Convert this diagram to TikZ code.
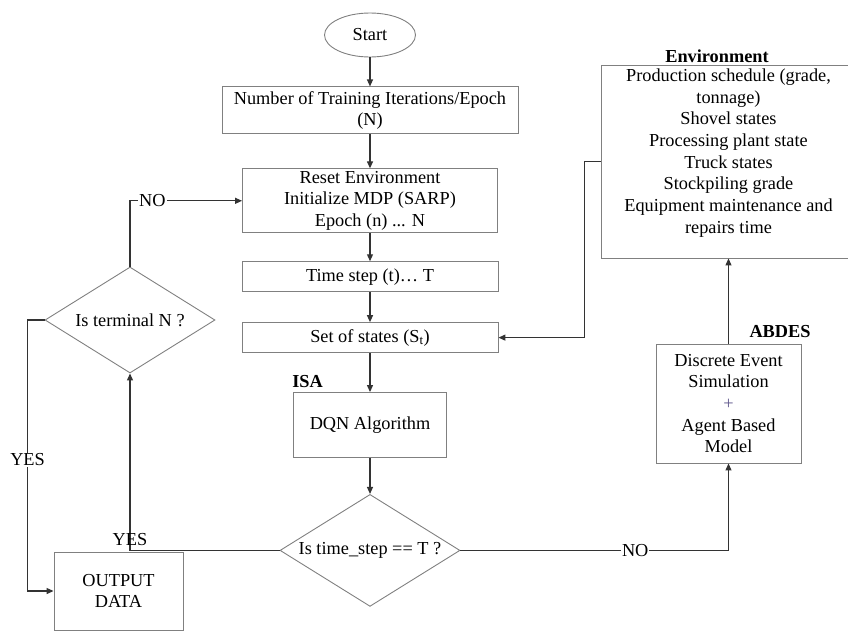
\documentclass[tikz,border=0pt]{standalone}
\usepackage{fontspec}
\setmainfont{Liberation Serif}
\usetikzlibrary{positioning,shapes.geometric,arrows.meta}
\definecolor{boxline}{gray}{0.5}
\definecolor{plusmark}{RGB}{96,88,140}

\tikzset{
  block/.style={rectangle,draw=boxline,line width=0.9pt,align=center,inner sep=2pt},
  decision/.style={diamond,draw=boxline,line width=0.9pt,aspect=1.6,inner sep=0pt,align=center},
  tag/.style={font=\fontsize{18.3}{21.7}\selectfont\bfseries,inner sep=0pt},
  flow/.style={->,line width=1.2pt,draw=black!80},
}

\begin{document}
\begin{tikzpicture}[x=1pt,y=-1pt,>={Triangle[length=7pt,width=6pt]},
    every node/.style={font=\fontsize{18.3}{21.7}\selectfont}]
      \useasboundingbox (0,0) rectangle (848,630);
      \clip (0,0) rectangle (848,630);
      % main column
      \node[ellipse,draw=boxline,line width=0.9pt,minimum width=91pt,minimum height=44pt,inner sep=0pt] (start) at (370,35) {Start};
      \node[block,below=29pt of start,minimum width=296pt,minimum height=47pt] (iter) {Number of Training Iterations/Epoch\\(N)};
      \node[block,below=34pt of iter,minimum width=255pt,minimum height=64pt] (reset) {Reset Environment\\Initialize MDP (SARP)\\Epoch (n) ... N};
      \node[block,below=28pt of reset,minimum width=256pt,minimum height=30pt] (tstep) {Time step (t)… T};
      \node[block,below=30pt of tstep,minimum width=256pt,minimum height=30pt] (states) {Set of states (S\textsubscript{t})};
      \node[block,below=39pt of states,minimum width=153pt,minimum height=65pt] (dqn) {DQN Algorithm};
      \node[decision,below=36pt of dqn,minimum width=180pt,minimum height=112pt] (isend) {Is time\_step == T ?};
      \node[tag,above right=4pt and -1pt of dqn.north west] (isa) {ISA};
      % left side
      \node[decision,minimum width=170pt,minimum height=106pt] (term) at (130,320) {Is terminal N ?};
      \node[block,minimum width=129pt,minimum height=78pt] (out) at (118.5,591) {OUTPUT\\DATA};
      % right side
      \node[block,minimum width=255pt,minimum height=193pt] (env) at (728.5,161.5) {};
      \node[align=center,inner sep=0pt,below=4pt of env.north] (envtext) {Production schedule (grade,\\tonnage)\\Shovel states\\Processing plant state\\Truck states\\Stockpiling grade\\Equipment maintenance and\\repairs time};
      \node[tag] (envtitle) at (717,56) {Environment};
      \node[block,minimum width=145pt,minimum height=119pt] (abdes) at (728.5,403.5) {Discrete Event\\Simulation\\{\color{plusmark}+}\\Agent Based\\Model};
      \node[tag] (abdestitle) at (780,332) {ABDES};
      % flow down
      \draw[flow] (start) -- (iter);
      \draw[flow] (iter) -- (reset);
      \draw[flow] (reset) -- (tstep);
      \draw[flow] (tstep) -- (states);
      \draw[flow] (states) -- (dqn);
      \draw[flow] (dqn) -- (isend);
      % loops
      \draw[flow] (isend.east) -| node[pos=0.326,fill=white,inner sep=1pt] {NO} (abdes.south);
      \draw[flow] (abdes.north) -- (env.south);
      \draw[flow] (env.west) -- ++(-16,0) |- (states.east);
      \draw[flow] (isend.west) -| node[pos=0.5,above=1pt] {YES} (term.south);
      \draw[flow] (term.north) |- node[pos=0.6,fill=white,inner sep=1pt] {NO} (reset.west);
      \draw[flow] (term.west) -- ++(-17,0) |- node[pos=0.258,fill=white,inner sep=1pt] {YES} (out.west);
\end{tikzpicture}
\end{document}
